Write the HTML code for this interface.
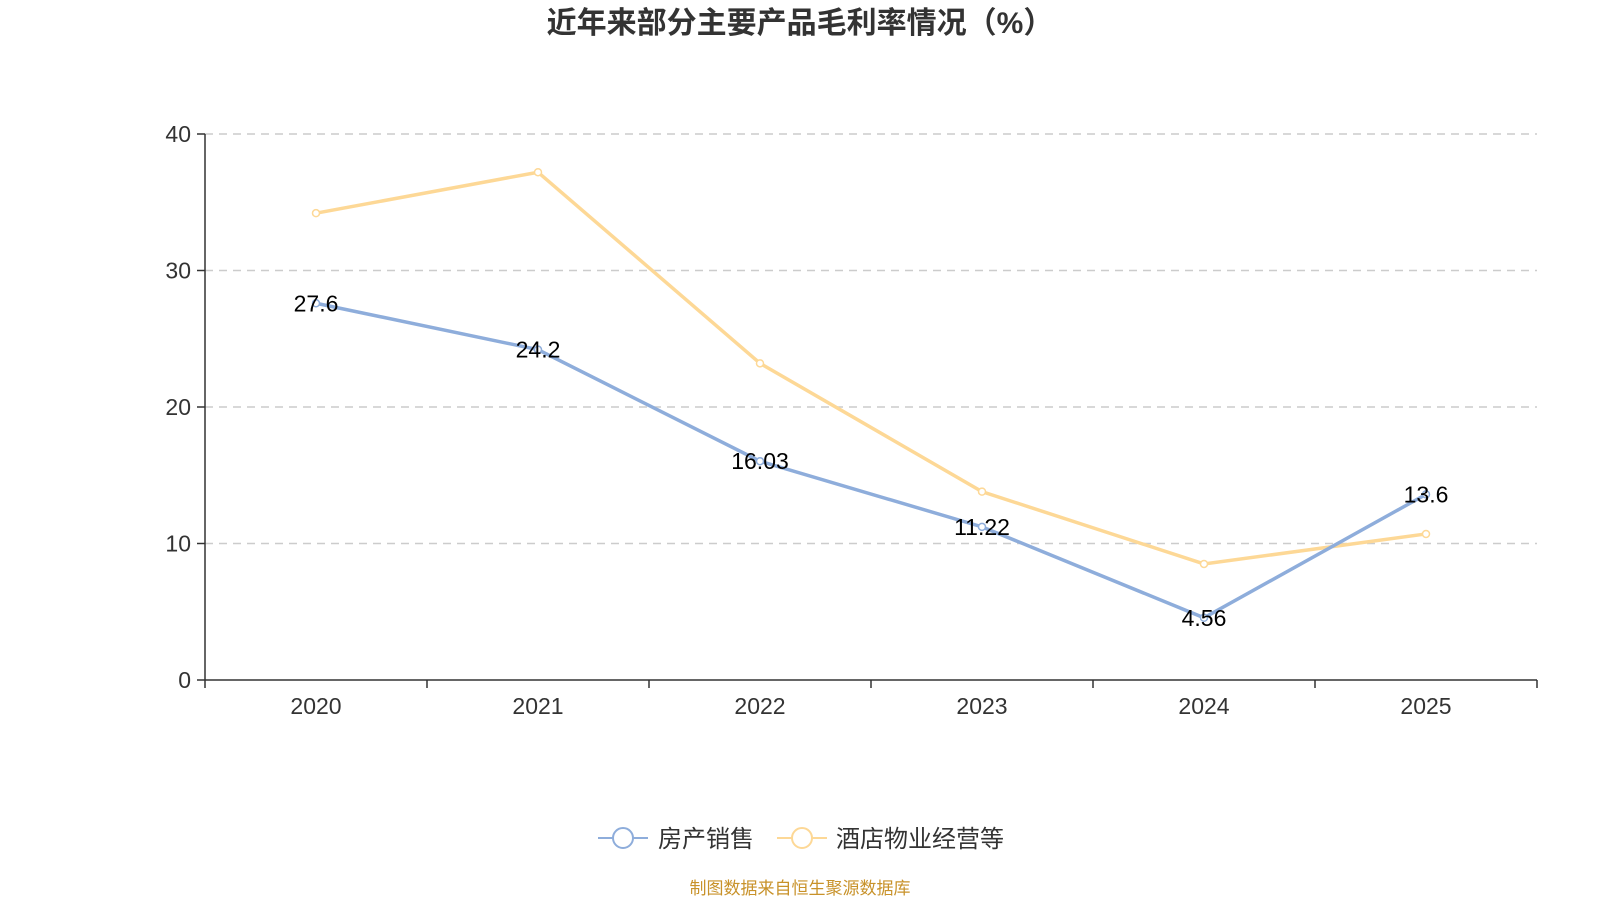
<!DOCTYPE html>
<html><head><meta charset="utf-8"><style>
body{margin:0;background:#fff;}
svg text{font-family:"Liberation Sans","Noto Sans CJK SC",sans-serif;}
</style></head><body>
<svg id="c" width="1600" height="900" xmlns="http://www.w3.org/2000/svg">
<text x="800" y="33" text-anchor="middle" font-size="30" font-weight="bold" fill="#333">近年来部分主要产品毛利率情况（%）</text>
<g id="grid"></g><g id="axes"></g><g id="series"></g>
<g>
<g>
<line x1="598" y1="838" x2="648" y2="838" stroke="#8eaddb" stroke-width="2"/>
<circle cx="623" cy="838" r="10" fill="#fff" stroke="#8eaddb" stroke-width="2"/>
<text x="658" y="847" font-size="24" fill="#333">房产销售</text></g>
<g>
<line x1="777" y1="838" x2="827" y2="838" stroke="#fdd896" stroke-width="2"/>
<circle cx="802" cy="838" r="10" fill="#fff" stroke="#fdd896" stroke-width="2"/>
<text x="836" y="847" font-size="24" fill="#333">酒店物业经营等</text></g>
</g>
<text x="800" y="894" text-anchor="middle" font-size="17" fill="#c8922a">制图数据来自恒生聚源数据库</text>
</svg>
<script>
const categories=["2020","2021","2022","2023","2024","2025"];
const salesValues=[27.6,24.2,16.03,11.22,4.56,13.6];
const hotelValues=[34.2,37.2,23.2,13.8,8.5,10.7];
const yTicks=[0,10,20,30,40];
const NS="http://www.w3.org/2000/svg";
const X0=205,X1=1537,Y0=680,Y1=134,YMAX=40;
const bw=(X1-X0)/categories.length;
const xs=i=>X0+bw*(i+0.5);
const ys=v=>Y0-(v/YMAX)*(Y0-Y1);
function mk(tag,attrs,parent,txt){const e=document.createElementNS(NS,tag);for(const k in attrs)e.setAttribute(k,attrs[k]);if(txt!==undefined)e.textContent=txt;parent.appendChild(e);return e;}
const grid=document.getElementById('grid'),axes=document.getElementById('axes'),ser=document.getElementById('series');
yTicks.forEach(t=>{
 if(t>0){const g=mk('line',{x1:X0,x2:X1,y1:ys(t),y2:ys(t),stroke:'#ccc','stroke-dasharray':'8,6','stroke-width':1.5},grid);
 
 }
 mk('line',{x1:X0-8,x2:X0,y1:ys(t),y2:ys(t),stroke:'#333','stroke-width':1.5},axes);
 const l=mk('text',{x:X0-14,y:ys(t)+8,'text-anchor':'end','font-size':23,fill:'#333'},axes,String(t));
 
 
});
const ya=mk('line',{x1:X0,x2:X0,y1:Y1,y2:Y0,stroke:'#333','stroke-width':1.5},axes);


const xa=mk('line',{x1:X0,x2:X1,y1:Y0,y2:Y0,stroke:'#333','stroke-width':1.5},axes);


for(let i=0;i<=categories.length;i++)mk('line',{x1:X0+bw*i,x2:X0+bw*i,y1:Y0,y2:Y0+8,stroke:'#333','stroke-width':1.5},axes);
categories.forEach((c,i)=>{
 const l=mk('text',{x:xs(i),y:Y0+34,'text-anchor':'middle','font-size':23,fill:'#333'},axes,c);
 
 
});
function series(vals,color,name){
 const p=mk('polyline',{points:vals.map((v,i)=>xs(i)+','+ys(v)).join(' '),fill:'none',stroke:color,'stroke-width':3.5},ser);
 
 
 vals.forEach((v,i)=>{
  const c=mk('circle',{cx:xs(i),cy:ys(v),r:3.5,fill:'#fff',stroke:color,'stroke-width':1.5},ser);
  
  
 });
}
series(hotelValues,'#fdd896','hotel');
series(salesValues,'#8eaddb','sales');
salesValues.forEach((v,i)=>{
 const t=mk('text',{x:xs(i),y:ys(v)+8,'text-anchor':'middle','font-size':23,fill:'#000'},ser,String(v));
 
 
});
</script>
</body></html>
